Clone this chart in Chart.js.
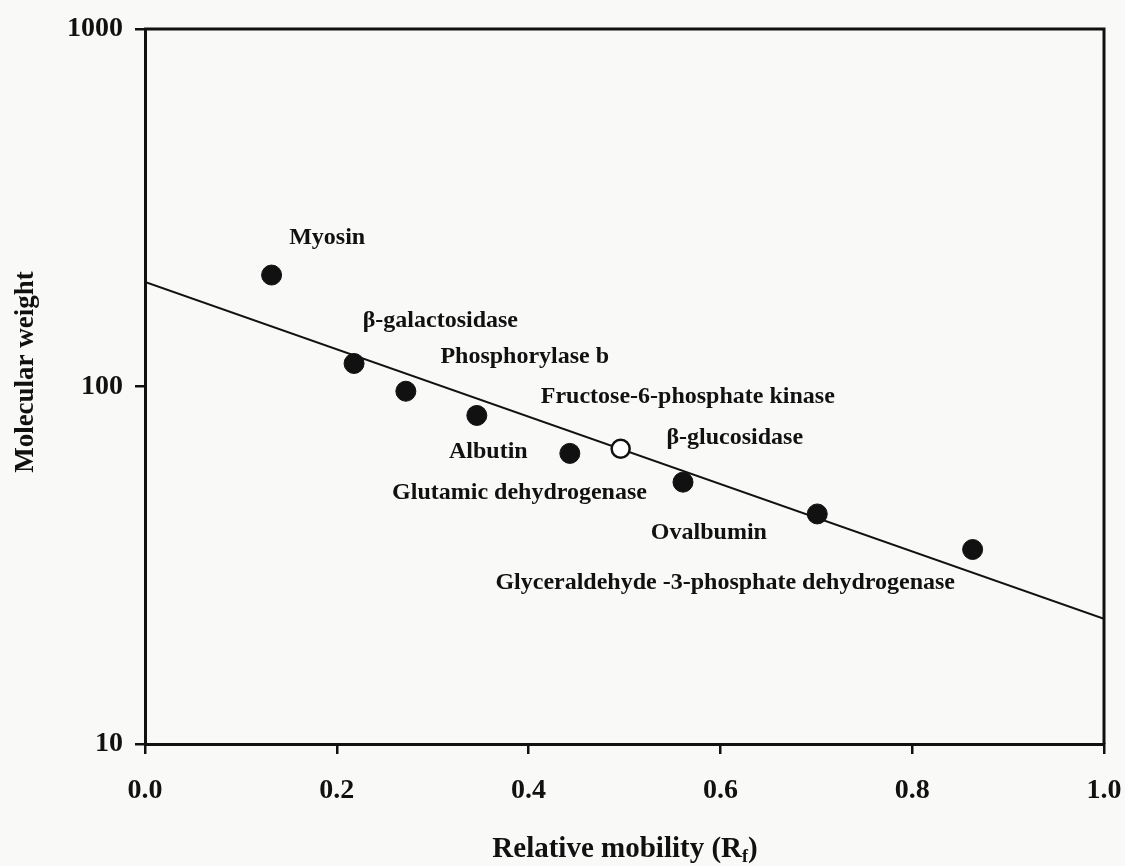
<!DOCTYPE html>
<html>
<head>
<meta charset="utf-8">
<script src="https://cdn.jsdelivr.net/npm/chart.js@4.4.1/dist/chart.umd.min.js"></script>
<style>
  html, body { margin: 0; padding: 0; background: #f9f9f8; }
  #wrap { width: 1125px; height: 866px; }
</style>
</head>
<body>
<div id="wrap"><canvas id="mwChart"></canvas></div>
<script>
// #### DATA ####
let proteins = ["Myosin", "\u03B2-galactosidase", "Phosphorylase b", "Albutin", "Glutamic dehydrogenase",
    "\u03B2-glucosidase", "Ovalbumin", "Glyceraldehyde -3-phosphate dehydrogenase"];
let standardRf = [0.132, 0.218, 0.272, 0.346, 0.443, 0.561, 0.701, 0.863];
let standardMw = [205, 116, 97, 83, 65, 54, 44, 35];

let unknownName = "Fructose-6-phosphate kinase";
let unknownRf = [0.496];
let unknownMw = [67];

// regression line end points
let fitRf = [0, 1];
let fitMw = [196, 22.4];

// label anchors in data units (centre of text)
let labelNames = ["Myosin", "\u03B2-galactosidase", "Phosphorylase b", "Fructose-6-phosphate kinase",
    "\u03B2-glucosidase", "Albutin", "Glutamic dehydrogenase", "Ovalbumin",
    "Glyceraldehyde -3-phosphate dehydrogenase"];
let labelRf = [0.190, 0.308, 0.396, 0.566, 0.615, 0.358, 0.3905, 0.588, 0.605];
let labelMw = [260, 153, 121, 93.5, 72, 65.6, 50.4, 38.9, 28.2];

let xTicks = [0, 0.2, 0.4, 0.6, 0.8, 1.0];
let yTicks = [10, 100, 1000];

const serif = '"Liberation Serif", "Times New Roman", serif';
const ink = '#111';

// #### PLUGINS ####
let frameAndText = {
    id: 'frameAndText',
    afterDraw(chart) {
        let ctx = chart.ctx;
        let area = chart.chartArea;
        let xs = chart.scales.x, ys = chart.scales.y;

        // top and right border of the box
        ctx.save();
        ctx.strokeStyle = ink;
        ctx.lineWidth = 3;
        ctx.beginPath();
        ctx.moveTo(area.left - 1, area.top);
        ctx.lineTo(area.right, area.top);
        ctx.lineTo(area.right, area.bottom);
        ctx.stroke();

        // protein labels
        ctx.fillStyle = ink;
        ctx.font = 'bold 24px ' + serif;
        ctx.textAlign = 'center';
        ctx.textBaseline = 'middle';
        for (let i = 0; i < labelNames.length; i++) {
            ctx.fillText(labelNames[i], xs.getPixelForValue(labelRf[i]), ys.getPixelForValue(labelMw[i]));
        }

        // y axis title
        ctx.font = 'bold 27px ' + serif;
        ctx.save();
        ctx.translate(26, 372);
        ctx.rotate(-Math.PI / 2);
        ctx.fillText('Molecular weight', 0, 0);
        ctx.restore();

        // x axis title with subscript f
        let mainFont = 'bold 29px ' + serif;
        let subFont = 'bold 18px ' + serif;
        let partA = 'Relative mobility (R';
        let partB = 'f';
        let partC = ')';
        ctx.font = mainFont;
        let wA = ctx.measureText(partA).width;
        let wC = ctx.measureText(partC).width;
        ctx.font = subFont;
        let wB = ctx.measureText(partB).width;
        let total = wA + wB + wC;
        let startX = 625 - total / 2;
        let baseY = 857;
        ctx.textAlign = 'left';
        ctx.textBaseline = 'alphabetic';
        ctx.font = mainFont;
        ctx.fillText(partA, startX, baseY);
        ctx.font = subFont;
        ctx.fillText(partB, startX + wA, baseY + 5);
        ctx.font = mainFont;
        ctx.fillText(partC, startX + wA + wB, baseY);
        ctx.restore();
    }
};

// #### CHART ####
let mwChart = new Chart(document.getElementById('mwChart').getContext('2d'), {
    type: 'scatter',
    data: {
        datasets: [
            {
                type: 'line',
                data: fitRf.map((x, i) => ({x: x, y: fitMw[i]})),
                borderColor: ink,
                borderWidth: 2,
                pointRadius: 0,
                fill: false,
                order: 3
            },
            {
                data: standardRf.map((x, i) => ({x: x, y: standardMw[i]})),
                backgroundColor: ink,
                borderColor: ink,
                pointRadius: 10,
                borderWidth: 1,
                order: 2
            },
            {
                data: unknownRf.map((x, i) => ({x: x, y: unknownMw[i]})),
                backgroundColor: '#ffffff',
                borderColor: ink,
                pointRadius: 9,
                borderWidth: 2.5,
                order: 1
            }
        ]
    },
    options: {
        responsive: true,
        maintainAspectRatio: false,
        animation: false,
        layout: {padding: {left: 0, top: 29, right: 21, bottom: 0}},
        plugins: {legend: {display: false}, tooltip: {enabled: false}},
        scales: {
            x: {
                type: 'linear',
                min: 0,
                max: 1,
                afterBuildTicks: (scale) => { scale.ticks = xTicks.map(v => ({value: v})); },
                afterFit: (scale) => {
                    scale.height = 122;
                    scale.paddingLeft = 0;
                    scale.paddingRight = 0;
                },
                ticks: {
                    callback: (v) => Number(v).toFixed(1),
                    color: ink,
                    font: {family: serif, size: 28, weight: 'bold'},
                    padding: 20,
                    maxRotation: 0
                },
                grid: {drawOnChartArea: false, drawTicks: true, tickLength: 10, color: ink, lineWidth: 2.5},
                border: {display: true, color: ink, width: 3}
            },
            y: {
                type: 'logarithmic',
                min: 10,
                max: 1000,
                afterBuildTicks: (scale) => { scale.ticks = yTicks.map(v => ({value: v})); },
                afterFit: (scale) => {
                    scale.width = 145;
                    scale.paddingTop = 0;
                    scale.paddingBottom = 0;
                },
                ticks: {
                    callback: (v) => String(v),
                    color: ink,
                    font: {family: serif, size: 28, weight: 'bold'},
                    padding: 12
                },
                grid: {drawOnChartArea: false, drawTicks: true, tickLength: 10, color: ink, lineWidth: 2.5},
                border: {display: true, color: ink, width: 3}
            }
        }
    },
    plugins: [frameAndText]
});
</script>
</body>
</html>
